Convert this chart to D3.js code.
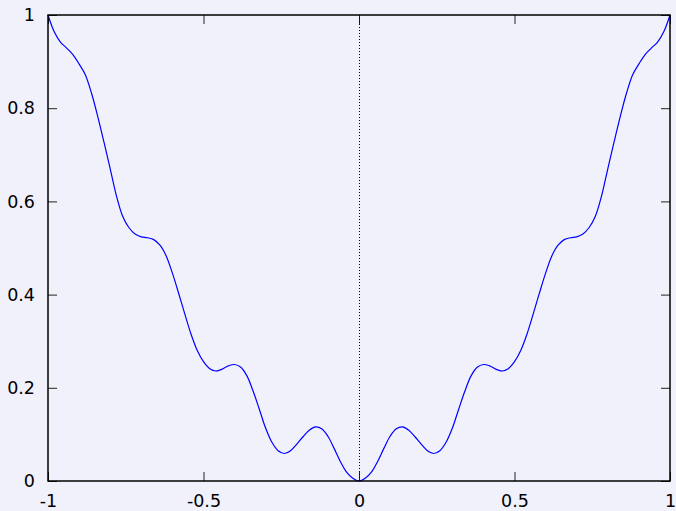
<!DOCTYPE html>
<html>
<head>
<meta charset="utf-8">
<script src="https://cdn.jsdelivr.net/npm/d3@7"></script>
<style>
  html, body { margin: 0; padding: 0; background: #f1f1fc; }
  svg { display: block; }
</style>
</head>
<body>
<script>
const xValues = [-1.00, -0.98, -0.96, -0.94, -0.92, -0.90, -0.88, -0.86, -0.84, -0.82, -0.80, -0.78, -0.76, -0.74, -0.72, -0.70, -0.68, -0.66, -0.64, -0.62, -0.60, -0.58, -0.56, -0.54, -0.52, -0.50, -0.48, -0.46, -0.44, -0.42, -0.40, -0.38, -0.36, -0.34, -0.32, -0.30, -0.28, -0.26, -0.24, -0.22, -0.20, -0.18, -0.16, -0.14, -0.12, -0.10, -0.08, -0.06, -0.04, -0.02, 0.00,
  0.02, 0.04, 0.06, 0.08, 0.10, 0.12, 0.14, 0.16, 0.18, 0.20, 0.22, 0.24, 0.26, 0.28, 0.30, 0.32, 0.34, 0.36, 0.38, 0.40, 0.42, 0.44, 0.46, 0.48, 0.50, 0.52, 0.54, 0.56, 0.58, 0.60, 0.62, 0.64, 0.66, 0.68, 0.70, 0.72, 0.74, 0.76, 0.78, 0.80, 0.82, 0.84, 0.86, 0.88, 0.90, 0.92, 0.94, 0.96, 0.98, 1.00];
const yValues = [1.000, 0.964, 0.942, 0.929, 0.915, 0.895, 0.872, 0.832, 0.782, 0.727, 0.670, 0.612, 0.568, 0.544, 0.530, 0.524, 0.522, 0.518, 0.506, 0.483, 0.446, 0.403, 0.358, 0.315, 0.280, 0.256, 0.241, 0.236, 0.240, 0.247, 0.250, 0.244, 0.225, 0.192, 0.153, 0.113, 0.083, 0.065, 0.059, 0.065, 0.079, 0.095, 0.109, 0.116, 0.112, 0.096, 0.070, 0.042, 0.019, 0.006, 0.000,
  0.006, 0.019, 0.042, 0.070, 0.096, 0.112, 0.116, 0.109, 0.095, 0.079, 0.065, 0.059, 0.065, 0.083, 0.113, 0.153, 0.192, 0.225, 0.244, 0.250, 0.247, 0.240, 0.236, 0.241, 0.256, 0.280, 0.315, 0.358, 0.403, 0.446, 0.483, 0.506, 0.518, 0.522, 0.524, 0.530, 0.544, 0.568, 0.612, 0.670, 0.727, 0.782, 0.832, 0.872, 0.895, 0.915, 0.929, 0.942, 0.964, 1.000];
const xTicks = [-1, -0.5, 0, 0.5, 1];
const xTickLabels = ["-1", "-0.5", "0", "0.5", "1"];
const yTicks = [0, 0.2, 0.4, 0.6, 0.8, 1];
const yTickLabels = ["0", "0.2", "0.4", "0.6", "0.8", "1"];

const W = 676, H = 511;
const L = 48, R = 670, T = 15, B = 481;

const svg = d3.select("body").append("svg").attr("width", W).attr("height", H);
svg.append("rect").attr("width", W).attr("height", H).attr("fill", "#f1f1fc");

const x = d3.scaleLinear().domain([-1, 1]).range([L, R]);
const y = d3.scaleLinear().domain([0, 1]).range([B, T]);

const font = "'DejaVu Sans', sans-serif";
const fs = 17.5;

// axes with inward ticks
const axB = d3.axisBottom(x).tickValues(xTicks).tickSize(-9).tickPadding(14)
  .tickFormat((d, i) => xTickLabels[i]);
const axT = d3.axisTop(x).tickValues(xTicks).tickSize(-9).tickFormat("");
const axL = d3.axisLeft(y).tickValues(yTicks).tickSize(-9).tickPadding(13)
  .tickFormat((d, i) => yTickLabels[i]);
const axR = d3.axisRight(y).tickValues(yTicks).tickSize(-9).tickFormat("");

function style(g) {
  g.select(".domain").remove();
  g.selectAll(".tick line").attr("stroke", "#222").attr("stroke-width", 1);
  g.selectAll(".tick text").attr("fill", "#000").style("font-family", font).style("font-size", fs + "px");
}
svg.append("g").attr("transform", `translate(0,${B})`).call(axB).call(style);
svg.append("g").attr("transform", `translate(0,${T})`).call(axT).call(style);
svg.append("g").attr("transform", `translate(${L},0)`).call(axL).call(style);
svg.append("g").attr("transform", `translate(${R},0)`).call(axR).call(style);

// zero axis (dotted)
svg.append("line")
  .attr("x1", x(0) + 0.5).attr("x2", x(0) + 0.5)
  .attr("y1", y(0)).attr("y2", y(1))
  .attr("stroke", "#000").attr("stroke-width", 1).attr("stroke-dasharray", "1,2");

// curve
const pts = xValues.map((v, i) => [v, yValues[i]]);
const line = d3.line().x(d => x(d[0])).y(d => y(d[1])).curve(d3.curveCatmullRom.alpha(0.5));
svg.append("path").datum(pts).attr("d", line)
  .attr("fill", "none").attr("stroke", "#0000ff").attr("stroke-width", 1.2);

// border
svg.append("rect").attr("x", L).attr("y", T).attr("width", R - L).attr("height", B - T)
  .attr("fill", "none").attr("stroke", "#000").attr("stroke-width", 1.5);
</script>
</body>
</html>
